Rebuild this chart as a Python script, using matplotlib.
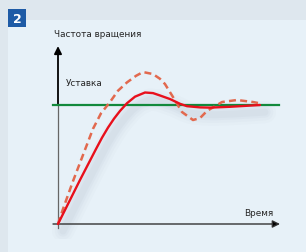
import matplotlib
matplotlib.use("Agg")
import matplotlib.pyplot as plt
from matplotlib.patches import Rectangle

# Data (time in arbitrary units, speed relative to setpoint)
t_solid = [0.0, 1.0, 2.2, 3.0, 3.8, 4.4, 5.0, 5.6, 6.2, 6.9, 7.7, 8.7, 9.5, 10.2, 11.2, 12.2, 12.9, 14.2, 15.2, 17.2, 20.2]
v_solid = [0.0, 0.168, 0.37, 0.50, 0.63, 0.725, 0.81, 0.885, 0.95, 1.015, 1.07, 1.105, 1.10, 1.08, 1.05, 1.01, 0.99, 0.98, 0.978, 0.985, 1.0]

t_dash = [0.0, 0.5, 1.5, 2.5, 3.5, 4.3, 5.2, 6.0, 6.9, 7.8, 8.5, 9.5, 10.2, 10.7, 11.5, 12.4, 13.5, 14.2, 14.9, 16.4, 17.9, 19.5, 20.0]
v_dash = [0.0, 0.126, 0.36, 0.58, 0.80, 0.93, 1.025, 1.12, 1.19, 1.245, 1.277, 1.26, 1.22, 1.176, 1.067, 0.941, 0.874, 0.89, 0.95, 1.025, 1.042, 1.025, 1.017]

setpoint = 1.0
labels = {"y": "Частота вращения", "x": "Время", "set": "Уставка", "num": "2"}

W, H = 306, 253
fig = plt.figure(figsize=(W / 100, H / 100), dpi=100)
fig.patch.set_facecolor("#dee7ee")

# light panel
bg = fig.add_axes([0, 0, 1, 1])
bg.set_xlim(0, W); bg.set_ylim(H, 0); bg.axis("off")
bg.add_patch(Rectangle((8, 21), W - 8, H - 21, facecolor="#e7f1f8", edgecolor="none"))
bg.add_patch(Rectangle((8, 10), 18, 18, facecolor="#1e5ba6", edgecolor="none"))
bg.text(17, 19.5, labels["num"], color="white", fontsize=9, fontweight="bold",
        ha="center", va="center", family="DejaVu Sans")

# main axes: t=0 at px 58, 10 px per unit; v=0 at px 225, 119 px per unit
left_px, right_px, top_px, bot_px = 40, 290, 30, 240
ax = fig.add_axes([left_px / W, (H - bot_px) / H, (right_px - left_px) / W, (bot_px - top_px) / H])
ax.set_xlim((left_px - 58) / 10, (right_px - 58) / 10)
ax.set_ylim(-(bot_px - 225) / 119, (225 - top_px) / 119)
ax.axis("off")
ax.patch.set_alpha(0)

# shadow
for w, a in [(16, 0.02), (12, 0.025), (8, 0.03), (5, 0.035)]:
    ax.plot([x + 0.5 for x in t_solid], [y - 0.06 for y in v_solid], color="#5a6a7a",
            lw=w, alpha=a, solid_capstyle="round", zorder=1)

# axes lines
ax.plot([0, 0], [-0.03, setpoint], color="#666666", lw=0.9, zorder=2)
ax.annotate("", xy=(0, 1.495), xytext=(0, setpoint),
            arrowprops=dict(arrowstyle="-|>", color="black", lw=1.3, mutation_scale=11,
                            shrinkA=0, shrinkB=0), zorder=3)
ax.annotate("", xy=(22.2, 0), xytext=(-0.5, 0),
            arrowprops=dict(arrowstyle="-|>", color="#333333", lw=1.0, mutation_scale=11,
                            shrinkA=0, shrinkB=0, fc="black"), zorder=3)

# setpoint
ax.plot([-0.5, 22.1], [setpoint, setpoint], color="#12893c", lw=1.6, zorder=3)

# curves
ax.plot(t_dash, v_dash, color="#e2694e", lw=1.8, dashes=(2.8, 1.7), zorder=4)
ax.plot(t_solid, v_solid, color="#e8101c", lw=1.7, zorder=5, solid_capstyle="round",
        solid_joinstyle="round")

# texts
fs = 6.4
fam = "DejaVu Sans"
ax.text(-0.4, 1.602, labels["y"], fontsize=fs, color="#262626", ha="left", va="center", family=fam)
ax.text(0.8, 1.19, labels["set"], fontsize=fs, color="#262626", ha="left", va="center", family=fam)
ax.text(21.5, 0.1, labels["x"], fontsize=fs, color="#262626", ha="right", va="center", family=fam)

fig.savefig("out.png", dpi=100, facecolor=fig.get_facecolor())
